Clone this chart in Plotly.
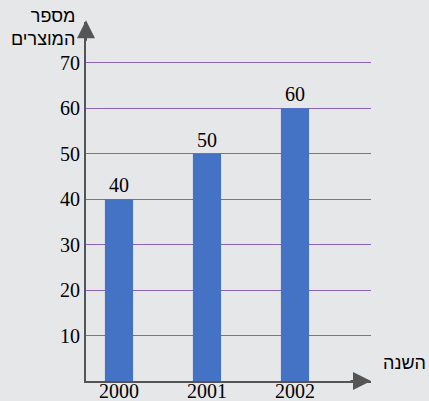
import plotly.graph_objects as go

years = [2000, 2001, 2002]
products = [40, 50, 60]
y_ticks = [10, 20, 30, 40, 50, 60, 70]

BG = "#e6e7e9"
AXIS = "#555555"
GRID = "#8c64b4"
BAR = "#4472c4"
SERIF = "Liberation Serif"
SANS = "Liberation Sans"

fig = go.Figure()
fig.add_trace(
    go.Bar(
        x=years,
        y=products,
        width=0.32,
        marker=dict(color=BAR, line=dict(width=0)),
        text=[str(v) for v in products],
        textposition="outside",
        textfont=dict(family=SERIF, size=20, color="black"),
        cliponaxis=False,
    )
)

fig.update_layout(
    width=429,
    height=401,
    autosize=False,
    margin=dict(l=86, r=58, t=22, b=20),
    paper_bgcolor=BG,
    plot_bgcolor=BG,
    showlegend=False,
    xaxis=dict(
        range=[1999.625, 2002.864],
        tickvals=years,
        showticklabels=False,
        showgrid=False,
        zeroline=False,
        showline=True,
        linecolor=AXIS,
        linewidth=2,
        ticks="",
        automargin=False,
    ),
    yaxis=dict(
        range=[0, 79],
        tickvals=y_ticks,
        showgrid=True,
        gridcolor=GRID,
        gridwidth=1,
        zeroline=False,
        showline=True,
        linecolor=AXIS,
        linewidth=2,
        ticks="",
        automargin=False,
        tickfont=dict(family=SERIF, size=20, color="black"),
    ),
)

# year labels sit tight under the axis
for yr in years:
    fig.add_annotation(
        x=yr, y=0, xref="x", yref="paper", yanchor="top", yshift=3,
        showarrow=False, text=str(yr),
        font=dict(family=SERIF, size=20, color="black"),
    )

# axis arrow heads
fig.add_annotation(
    x=1.0, y=0, xref="paper", yref="paper", ax=-22, ay=0,
    showarrow=True, arrowhead=2, arrowsize=1.8, arrowwidth=2,
    arrowcolor=AXIS, text="",
)
fig.add_annotation(
    x=0, y=1.005, xref="paper", yref="paper", ax=0, ay=22,
    showarrow=True, arrowhead=2, arrowsize=1.8, arrowwidth=2,
    arrowcolor=AXIS, text="",
)

# axis titles
fig.add_annotation(
    x=-0.032, y=1.05, xref="paper", yref="paper", xanchor="right", yanchor="top",
    showarrow=False, align="right",
    text="מספר<br>המוצרים",
    font=dict(family=SANS, size=18, color="black"),
)
fig.add_annotation(
    x=1.119, y=0.05, xref="paper", yref="paper", xanchor="center", yanchor="middle",
    showarrow=False, text="השנה",
    font=dict(family=SANS, size=18, color="black"),
)

fig.write_html(
    "out.html",
    config={"displayModeBar": False, "responsive": False},
    post_script="document.body.style.margin='0';",
)
